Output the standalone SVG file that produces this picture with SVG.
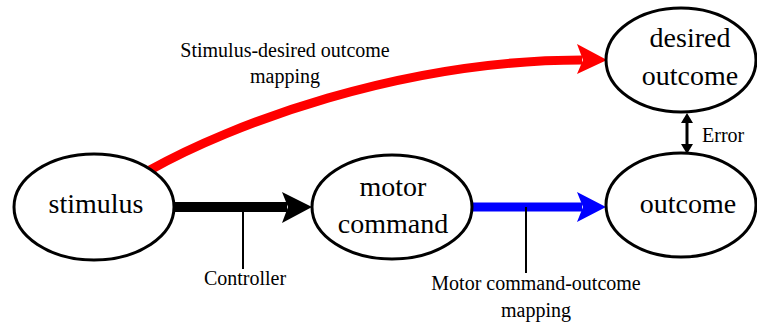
<svg xmlns="http://www.w3.org/2000/svg" width="757" height="329" viewBox="0 0 757 329">
  <style>
    .node ellipse { fill: #ffffff; stroke: #000000; stroke-width: 3; }
    .node text { font-size: 28px; fill: #000000; text-anchor: middle; }
    .label { font-size: 20px; fill: #000000; }
    .mid { text-anchor: middle; }
    .callout { stroke: #000000; stroke-width: 2; fill: none; }
  </style>
  <rect width="757" height="329" fill="#ffffff"/>

  <g id="connectors">
    <!-- stimulus to desired outcome -->
    <path d="M150,170 C230,125 400,60 582,60" fill="none" stroke="#ff0000" stroke-width="9"/>
    <polygon points="607,60 577,44 583,60 577,74" fill="#ff0000"/>
    <!-- controller: stimulus to motor command -->
    <line x1="174" y1="207" x2="287" y2="207" stroke="#000000" stroke-width="10"/>
    <polygon points="312,207 282,192 288,207 282,223" fill="#000000"/>
    <line class="callout" x1="243" y1="207" x2="243" y2="269"/>
    <!-- motor command to outcome -->
    <line x1="473" y1="207" x2="582" y2="207" stroke="#0000ff" stroke-width="9"/>
    <polygon points="606,207 577,192 583,207 577,222" fill="#0000ff"/>
    <line class="callout" x1="526" y1="207" x2="526" y2="273"/>
    <!-- error between desired outcome and outcome -->
    <line x1="687" y1="120" x2="687" y2="147" stroke="#000000" stroke-width="3"/>
    <polygon points="687,113 681,123 693,123" fill="#000000"/>
    <polygon points="687,154 681,144 693,144" fill="#000000"/>
  </g>

  <g font-family="Liberation Serif, Times New Roman, Noto Serif, DejaVu Serif, serif">
    <g id="stimulus" class="node">
      <ellipse cx="94" cy="207" rx="80" ry="53"/>
      <text x="96" y="213">stimulus</text>
    </g>
    <g id="motor-command" class="node">
      <ellipse cx="392" cy="207" rx="80" ry="52"/>
      <text x="393" y="196">motor</text>
      <text x="393" y="233">command</text>
    </g>
    <g id="outcome" class="node">
      <ellipse cx="681" cy="205" rx="75" ry="52"/>
      <text x="688" y="213">outcome</text>
    </g>
    <g id="desired-outcome" class="node">
      <ellipse cx="681" cy="60" rx="75" ry="52"/>
      <text x="690" y="47">desired</text>
      <text x="690" y="85">outcome</text>
    </g>

    <g id="labels">
      <text class="label mid" x="285" y="57">Stimulus-desired outcome</text>
      <text class="label mid" x="285" y="83">mapping</text>
      <text class="label mid" x="245" y="285">Controller</text>
      <text class="label mid" x="536" y="290">Motor command-outcome</text>
      <text class="label mid" x="536" y="317">mapping</text>
      <text class="label" x="702" y="142">Error</text>
    </g>
  </g>
</svg>
